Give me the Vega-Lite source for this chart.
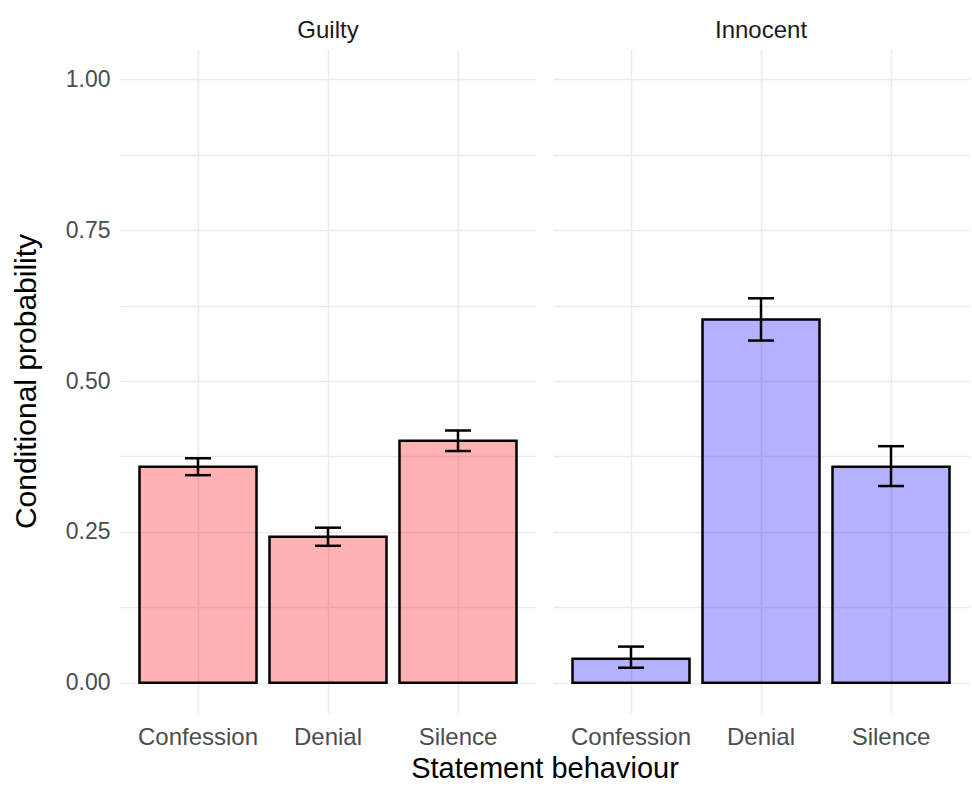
{
  "$schema": "https://vega.github.io/schema/vega-lite/v6.json",
  "background": "white",
  "padding": {"left": 11, "top": 19, "right": 2, "bottom": 0},
  "data": {
    "values": [
      {"Status": "Guilty", "Behaviour": "Confession", "p": 0.358, "lo": 0.344, "hi": 0.372},
      {"Status": "Guilty", "Behaviour": "Denial", "p": 0.242, "lo": 0.227, "hi": 0.257},
      {"Status": "Guilty", "Behaviour": "Silence", "p": 0.401, "lo": 0.384, "hi": 0.418},
      {"Status": "Innocent", "Behaviour": "Confession", "p": 0.040, "lo": 0.025, "hi": 0.060},
      {"Status": "Innocent", "Behaviour": "Denial", "p": 0.602, "lo": 0.567, "hi": 0.637},
      {"Status": "Innocent", "Behaviour": "Silence", "p": 0.358, "lo": 0.326, "hi": 0.392}
    ]
  },
  "facet": {
    "column": {
      "field": "Status",
      "type": "nominal",
      "header": {
        "title": "Statement behaviour",
        "titleOrient": "bottom",
        "labelOrient": "top",
        "labelFont": "Liberation Sans",
        "labelFontSize": 24,
        "labelColor": "#1a1a1a",
        "labelPadding": 6,
        "titleFont": "Liberation Sans",
        "titleFontSize": 29,
        "titleFontWeight": "normal",
        "titleColor": "#000000",
        "titlePadding": -4
      }
    }
  },
  "spacing": 17,
  "spec": {
    "width": 416,
    "height": 664,
    "encoding": {
      "x": {
        "field": "Behaviour",
        "type": "nominal",
        "title": null,
        "scale": {"paddingInner": 0.1, "paddingOuter": 0.15},
        "axis": {
          "grid": true,
          "bandPosition": 0.5,
          "gridColor": "#ebebeb",
          "gridWidth": 1.5,
          "ticks": false,
          "domain": false,
          "labelAngle": 0,
          "labelFont": "Liberation Sans",
          "labelFontSize": 24,
          "labelColor": "#4d4d4d",
          "labelPadding": 12
        }
      }
    },
    "layer": [
      {
        "mark": {"type": "bar", "fillOpacity": 0.3, "stroke": "black", "strokeWidth": 2.5},
        "encoding": {
          "y": {
            "field": "p",
            "type": "quantitative",
            "title": "Conditional probability",
            "scale": {"domain": [-0.05, 1.05], "nice": false, "zero": false},
            "axis": {
              "values": [0, 0.125, 0.25, 0.375, 0.5, 0.625, 0.75, 0.875, 1],
              "labelExpr": "datum.value % 0.25 == 0 ? format(datum.value, '.2f') : ''",
              "grid": true,
              "gridColor": "#ebebeb",
              "gridWidth": 1.5,
              "ticks": false,
              "domain": false,
              "labelFont": "Liberation Sans",
              "labelFontSize": 23,
              "labelColor": "#4d4d4d",
              "labelPadding": 10,
              "titleFont": "Liberation Sans",
              "titleFontSize": 30,
              "titleFontWeight": "normal",
              "titleColor": "#000000",
              "titlePadding": 24
            }
          },
          "color": {
            "field": "Status",
            "type": "nominal",
            "scale": {"domain": ["Guilty", "Innocent"], "range": ["#ff0000", "#0000ff"]},
            "legend": null
          }
        }
      },
      {
        "mark": {"type": "rule", "color": "black", "strokeWidth": 2.5},
        "encoding": {
          "y": {"field": "lo", "type": "quantitative", "title": "Conditional probability"},
          "y2": {"field": "hi"}
        }
      },
      {
        "mark": {"type": "tick", "orient": "horizontal", "color": "black", "thickness": 2.5, "size": 26, "opacity": 1},
        "encoding": {
          "y": {"field": "lo", "type": "quantitative", "title": "Conditional probability"}
        }
      },
      {
        "mark": {"type": "tick", "orient": "horizontal", "color": "black", "thickness": 2.5, "size": 26, "opacity": 1},
        "encoding": {
          "y": {"field": "hi", "type": "quantitative", "title": "Conditional probability"}
        }
      }
    ]
  },
  "config": {
    "view": {"stroke": null},
    "font": "Liberation Sans"
  }
}
